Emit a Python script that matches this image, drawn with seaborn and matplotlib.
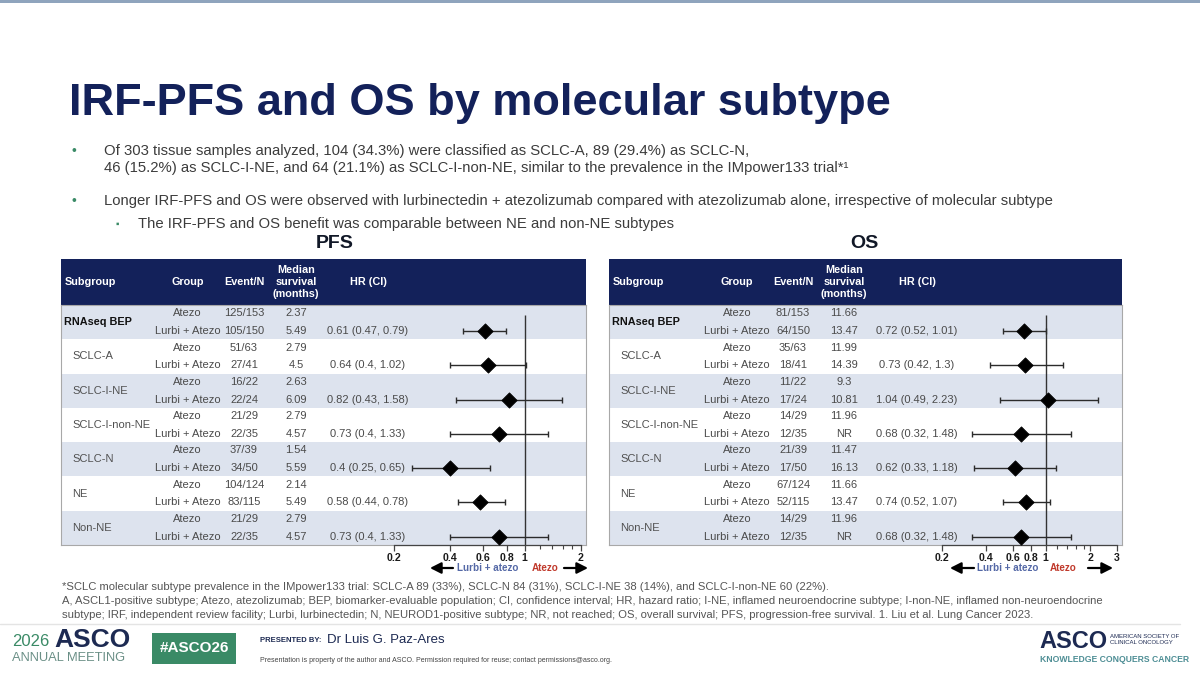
import numpy as np
import pandas as pd
import matplotlib.pyplot as plt
import seaborn as sns
from matplotlib.patches import Rectangle
from matplotlib.ticker import FixedLocator, NullFormatter

subgroups = ['RNAseq BEP', 'SCLC-A', 'SCLC-I-NE', 'SCLC-I-non-NE', 'SCLC-N', 'NE', 'Non-NE']
arms = ['Atezo', 'Lurbi + Atezo']

pfs_events_atezo = ['125/153', '51/63', '16/22', '21/29', '37/39', '104/124', '21/29']
pfs_events_lurbi = ['105/150', '27/41', '22/24', '22/35', '34/50', '83/115', '22/35']
pfs_median_atezo = ['2.37', '2.79', '2.63', '2.79', '1.54', '2.14', '2.79']
pfs_median_lurbi = ['5.49', '4.5', '6.09', '4.57', '5.59', '5.49', '4.57']
pfs_hr = [0.61, 0.64, 0.82, 0.73, 0.4, 0.58, 0.73]
pfs_lo = [0.47, 0.4, 0.43, 0.4, 0.25, 0.44, 0.4]
pfs_hi = [0.79, 1.02, 1.58, 1.33, 0.65, 0.78, 1.33]

os_events_atezo = ['81/153', '35/63', '11/22', '14/29', '21/39', '67/124', '14/29']
os_events_lurbi = ['64/150', '18/41', '17/24', '12/35', '17/50', '52/115', '12/35']
os_median_atezo = ['11.66', '11.99', '9.3', '11.96', '11.47', '11.66', '11.96']
os_median_lurbi = ['13.47', '14.39', '10.81', 'NR', '16.13', '13.47', 'NR']
os_hr = [0.72, 0.73, 1.04, 0.68, 0.62, 0.74, 0.68]
os_lo = [0.52, 0.42, 0.49, 0.32, 0.33, 0.52, 0.32]
os_hi = [1.01, 1.3, 2.23, 1.48, 1.18, 1.07, 1.48]

pfs_ticks = [0.2, 0.4, 0.6, 0.8, 1, 2]
os_ticks = [0.2, 0.4, 0.6, 0.8, 1, 2, 3]
minor_ticks = [1.2, 1.4, 1.6, 1.8]

sns.set_theme(style='white')
plt.rcParams['font.family'] = ['Liberation Sans', 'DejaVu Sans']

NAVY = '#13215a'
BAND = '#dde3ee'
TXT = '#4a4a4a'
GREEN = '#3a8a66'

W, H = 1200, 675
HEAD_TOP, BODY_TOP, BODY_BOT = 259, 305, 545

fig = plt.figure(figsize=(12, 6.75), dpi=100)
bg = fig.add_axes([0, 0, 1, 1])
bg.set_xlim(0, W)
bg.set_ylim(H, 0)
bg.axis('off')


def px_box(x0, y0, x1, y1):
    return [x0 / W, 1 - y1 / H, (x1 - x0) / W, (y1 - y0) / H]


# slide header
bg.add_patch(Rectangle((0, 0), W, 2.5, color='#8fa4bd', lw=0))
bg.text(69, 103, 'IRF-PFS and OS by molecular subtype', fontsize=32.5, fontweight='bold',
        color=NAVY, va='center')
bullets = [
    (151, 'Of 303 tissue samples analyzed, 104 (34.3%) were classified as SCLC-A, 89 (29.4%) as SCLC-N,'),
    (168, '46 (15.2%) as SCLC-I-NE, and 64 (21.1%) as SCLC-I-non-NE, similar to the prevalence in the IMpower133 trial*¹'),
    (201, 'Longer IRF-PFS and OS were observed with lurbinectedin + atezolizumab compared with atezolizumab alone, irrespective of molecular subtype'),
]
for y, s in bullets:
    bg.text(104, y, s, fontsize=10.75, color='#3c3c3c', va='center')
bg.text(71, 151, '•', fontsize=10, color=GREEN, va='center')
bg.text(71, 201, '•', fontsize=10, color=GREEN, va='center')
bg.text(116, 224, '▪', fontsize=7, color=GREEN, va='center')
bg.text(138, 224, 'The IRF-PFS and OS benefit was comparable between NE and non-NE subtypes',
        fontsize=10.75, color='#3c3c3c', va='center')


def draw_table(title, spec, ev_a, ev_l, med_a, med_l, hr, lo, hi, ticks):
    x0, x1 = spec['left'], spec['right']
    cg, ce, cm, ch = spec['cols']
    bg.text((x0 + x1) / 2 + spec['title_dx'], 243, title, fontsize=14, fontweight='bold',
            color='#111827', ha='center', va='center')

    # header band
    bg.add_patch(Rectangle((x0, HEAD_TOP), x1 - x0, BODY_TOP - HEAD_TOP, color=NAVY, lw=0))
    hk = dict(color='white', fontsize=7.8, fontweight='bold', va='center')
    bg.text(x0 + 3.5, 282, 'Subgroup', **hk)
    bg.text(cg, 282, 'Group', ha='center', **hk)
    bg.text(ce, 282, 'Event/N', ha='center', **hk)
    bg.text(cm, 282, 'Median\nsurvival\n(months)', ha='center', linespacing=1.22, **hk)
    bg.text(ch, 282, 'HR (CI)', ha='center', **hk)

    # table body
    tab = fig.add_axes(px_box(x0, BODY_TOP, x1, BODY_BOT))
    tab.set_xlim(x0, x1)
    tab.set_ylim(len(subgroups), 0)
    tab.set_xticks([])
    tab.set_yticks([])
    for sp in tab.spines.values():
        sp.set_color('#a8a8a8')
        sp.set_linewidth(0.8)
    rk = dict(fontsize=8, color=TXT, va='center', ha='center')
    for i, name in enumerate(subgroups):
        if i % 2 == 0:
            tab.axhspan(i, i + 1, color=BAND, lw=0)
        if i == 0:
            tab.text(x0 + 3.5, i + 0.5, name, fontsize=7.8, fontweight='bold', color='#111111', va='center')
        else:
            tab.text(x0 + 11, i + 0.5, name, fontsize=8, color='#505050', va='center')
        tab.text(cg, i + 0.24, arms[0], **rk)
        tab.text(cg, i + 0.76, arms[1], **rk)
        tab.text(ce, i + 0.24, ev_a[i], **rk)
        tab.text(ce, i + 0.76, ev_l[i], **rk)
        tab.text(cm, i + 0.24, med_a[i], **rk)
        tab.text(cm, i + 0.76, med_l[i], **rk)
        tab.text(ch, i + 0.76, f'{hr[i]:g} ({lo[i]:g}, {hi[i]:g})', **rk)

    # forest plot
    df = pd.DataFrame({'hr': hr, 'lo': lo, 'hi': hi,
                       'y': np.arange(len(subgroups)) + 0.76})
    fa = fig.add_axes(px_box(spec['ax0'], BODY_TOP, spec['ax1'], BODY_BOT))
    fa.patch.set_alpha(0)
    fa.set_xscale('log')
    fa.errorbar(df['hr'], df['y'], xerr=[df['hr'] - df['lo'], df['hi'] - df['hr']],
                fmt='none', ecolor='#2b2b2b', elinewidth=1.0, capsize=2.5, capthick=1.0, zorder=2)
    sns.scatterplot(data=df, x='hr', y='y', marker='D', s=60, color='black',
                    edgecolor='black', ax=fa, zorder=3, legend=False)
    fa.vlines(1, 0.3, len(subgroups), color='#333333', lw=1.0, zorder=1)
    fa.set_xlim(ticks[0], ticks[-1])
    fa.set_ylim(len(subgroups), 0)
    fa.xaxis.set_major_locator(FixedLocator(ticks))
    fa.set_xticklabels([f'{t:g}' for t in ticks])
    fa.xaxis.set_minor_locator(FixedLocator(minor_ticks))
    fa.xaxis.set_minor_formatter(NullFormatter())
    fa.set_yticks([])
    fa.set_xlabel('')
    fa.set_ylabel('')
    for side in ['top', 'left', 'right']:
        fa.spines[side].set_visible(False)
    fa.spines['bottom'].set_color('#444444')
    fa.spines['bottom'].set_linewidth(0.9)
    fa.tick_params(axis='x', which='major', direction='out', length=4, width=0.9,
                   color='#444444', pad=1.5, labelsize=7.6, bottom=True)
    fa.tick_params(axis='x', which='minor', direction='out', length=3, width=0.8,
                   color='#444444', bottom=True)
    for lab in fa.get_xticklabels():
        lab.set_fontweight('bold')
        lab.set_color('#1a1a1a')

    # direction arrows
    (a0, a1), lab1, lab2, (b0, b1) = spec['arrows']
    ak = dict(arrowstyle='-|>,head_length=0.55,head_width=0.28', color='black', lw=1.6,
              shrinkA=0, shrinkB=0)
    bg.annotate('', xy=(a0, 568), xytext=(a1, 568), arrowprops=ak)
    bg.annotate('', xy=(b1, 568), xytext=(b0, 568), arrowprops=ak)
    bg.text(lab1, 568, 'Lurbi + atezo', fontsize=7.1, fontweight='bold', color='#5468a6',
            ha='center', va='center')
    bg.text(lab2, 568, 'Atezo', fontsize=7.1, fontweight='bold', color='#c0392b',
            ha='center', va='center')


pfs_spec = dict(left=61, right=586, cols=(187.6, 244, 296, 368), ax0=394, ax1=581,
                title_dx=11, arrows=((430, 453), 488, 545, (564, 588)))
os_spec = dict(left=609, right=1122, cols=(737, 793, 844, 917), ax0=941.7, ax1=1116.7,
               title_dx=-1, arrows=((950, 974), 1008, 1063, (1088, 1113)))

draw_table('PFS', pfs_spec, pfs_events_atezo, pfs_events_lurbi, pfs_median_atezo,
           pfs_median_lurbi, pfs_hr, pfs_lo, pfs_hi, pfs_ticks)
draw_table('OS', os_spec, os_events_atezo, os_events_lurbi, os_median_atezo,
           os_median_lurbi, os_hr, os_lo, os_hi, os_ticks)

# footnotes
notes = [
    (587, '*SCLC molecular subtype prevalence in the IMpower133 trial: SCLC-A 89 (33%), SCLC-N 84 (31%), SCLC-I-NE 38 (14%), and SCLC-I-non-NE 60 (22%).'),
    (601, 'A, ASCL1-positive subtype; Atezo, atezolizumab; BEP, biomarker-evaluable population; CI, confidence interval; HR, hazard ratio; I-NE, inflamed neuroendocrine subtype; I-non-NE, inflamed non-neuroendocrine'),
    (615, 'subtype; IRF, independent review facility; Lurbi, lurbinectedin; N, NEUROD1-positive subtype; NR, not reached; OS, overall survival; PFS, progression-free survival. 1. Liu et al. Lung Cancer 2023.'),
]
for y, s in notes:
    bg.text(62, y, s, fontsize=8.1, color='#555555', va='center')
bg.plot([0, 1180], [624, 624], color='#e4e4e4', lw=1)

# footer
bg.text(12, 641, '2026', fontsize=12, color=GREEN, va='center')
bg.text(54, 640, 'ASCO', fontsize=19, fontweight='bold', color='#1d2a52', va='center')
bg.text(12, 658, 'ANNUAL MEETING', fontsize=9.3, color='#6a8f86', va='center')
bg.add_patch(Rectangle((152, 633), 84, 31, color=GREEN, lw=0))
bg.text(194, 648.5, '#ASCO26', fontsize=11, fontweight='bold', color='white', ha='center', va='center')
bg.text(260, 641, 'PRESENTED BY:', fontsize=5.5, fontweight='bold', color='#1d2a52', va='center')
bg.text(327, 640, 'Dr Luis G. Paz-Ares', fontsize=9.5, color='#1d2a52', va='center')
bg.text(260, 661, 'Presentation is property of the author and ASCO. Permission required for reuse; contact permissions@asco.org.',
        fontsize=5, color='#444444', va='center')
bg.text(1039, 641, 'ASCO', fontsize=17, fontweight='bold', color='#1d2a52', va='center')
bg.text(1110, 636, 'AMERICAN SOCIETY OF', fontsize=4.3, color='#1d2a52', va='center')
bg.text(1110, 643, 'CLINICAL ONCOLOGY', fontsize=4.3, color='#1d2a52', va='center')
bg.text(1040, 659, 'KNOWLEDGE CONQUERS CANCER', fontsize=6.2, fontweight='bold', color='#4e8e95', va='center')

fig.savefig('out.png', dpi=100)
